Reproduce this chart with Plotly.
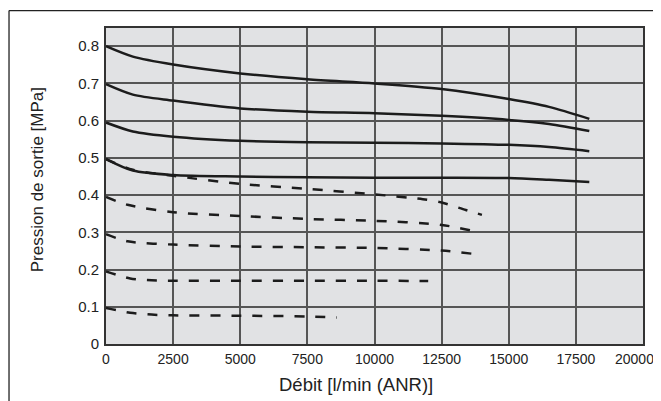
import plotly.graph_objects as go

# Solid curves (set pressures 0.8, 0.7, 0.6, 0.5 MPa)
solid_x = [0, 1000, 2500, 5000, 7500, 10000, 12500, 15000, 16500, 18000]
solid_08 = [0.800, 0.772, 0.751, 0.727, 0.711, 0.700, 0.685, 0.658, 0.637, 0.605]
solid_07 = [0.698, 0.670, 0.654, 0.633, 0.624, 0.620, 0.613, 0.602, 0.591, 0.572]
solid_06 = [0.595, 0.571, 0.557, 0.546, 0.542, 0.541, 0.539, 0.535, 0.529, 0.518]
solid_05 = [0.497, 0.466, 0.454, 0.450, 0.448, 0.447, 0.447, 0.446, 0.441, 0.435]

# Dashed curves (set pressures 0.5, 0.4, 0.3, 0.2, 0.1 MPa)
dash_05_x = [0, 1000, 2500, 5000, 7500, 10000, 11800, 12500, 13400, 14000]
dash_05_y = [0.497, 0.468, 0.452, 0.430, 0.417, 0.402, 0.389, 0.380, 0.360, 0.347]
dash_04_x = [0, 800, 2500, 5000, 7500, 10000, 12500, 13700]
dash_04_y = [0.395, 0.374, 0.354, 0.344, 0.336, 0.331, 0.320, 0.303]
dash_03_x = [0, 800, 2500, 5000, 7500, 10000, 12500, 13700]
dash_03_y = [0.295, 0.276, 0.267, 0.262, 0.260, 0.258, 0.251, 0.242]
dash_02_x = [0, 900, 1700, 2500, 5000, 7500, 10000, 12000]
dash_02_y = [0.195, 0.176, 0.171, 0.170, 0.170, 0.170, 0.170, 0.169]
dash_01_x = [0, 900, 1700, 2500, 5000, 7500, 8600]
dash_01_y = [0.097, 0.084, 0.079, 0.077, 0.076, 0.074, 0.071]

x_ticks = [0, 2500, 5000, 7500, 10000, 12500, 15000, 17500, 20000]
y_ticks = [0, 0.1, 0.2, 0.3, 0.4, 0.5, 0.6, 0.7, 0.8]
y_tick_labels = ["0", "0.1", "0.2", "0.3", "0.4", "0.5", "0.6", "0.7", "0.8"]
x_title = "Débit [l/min (ANR)]"
y_title = "Pression de sortie [MPa]"

line_color = "#1c1c1c"
fig = go.Figure()
for ys in [solid_08, solid_07, solid_06, solid_05]:
    fig.add_trace(go.Scatter(x=solid_x, y=ys, mode="lines",
                             line=dict(color=line_color, width=2.5, shape="spline", smoothing=0.8),
                             showlegend=False, hoverinfo="skip"))
for xs, ys in [(dash_05_x, dash_05_y), (dash_04_x, dash_04_y), (dash_03_x, dash_03_y),
               (dash_02_x, dash_02_y), (dash_01_x, dash_01_y)]:
    fig.add_trace(go.Scatter(x=xs, y=ys, mode="lines",
                             line=dict(color=line_color, width=2.5, dash="10px,11px",
                                       shape="spline", smoothing=0.8),
                             showlegend=False, hoverinfo="skip"))

font_family = "Liberation Sans, Arial, sans-serif"
# last x label is drawn separately (shifted inward as in the reference)
x_tick_text = [str(v) for v in x_ticks[:-1]] + [""]

# the page body adds an 8px offset, so the figure is sized to the visible area
fig.update_layout(
    width=653, height=393,
    margin=dict(l=98, r=18, t=20, b=56.5, pad=0),
    paper_bgcolor="white",
    plot_bgcolor="#e1e2e4",
    font=dict(family=font_family, size=15, color="#222"),
    xaxis=dict(range=[0, 20000], tickvals=x_ticks, ticktext=x_tick_text,
               showgrid=True, gridcolor="#555555", gridwidth=1.5,
               showline=True, linecolor="#333", linewidth=2, mirror=True,
               ticks="", zeroline=False, automargin=False, ticklabeloverflow="allow",
               ticklabelstandoff=1, tickfont=dict(size=14)),
    yaxis=dict(range=[0, 0.849], tickvals=y_ticks, ticktext=y_tick_labels,
               showgrid=True, gridcolor="#555555", gridwidth=1.5,
               showline=True, linecolor="#333", linewidth=2, mirror=True,
               ticks="", zeroline=False, automargin=False, ticklabeloverflow="allow",
               ticklabelstandoff=2, tickfont=dict(size=15)),
)

fig.add_annotation(xref="x", yref="paper", x=x_ticks[-1], xshift=-8.5, y=-0.048,
                   xanchor="center", yanchor="middle", text=str(x_ticks[-1]), showarrow=False,
                   font=dict(size=14, color="#222"))

# axis titles
fig.add_annotation(xref="paper", yref="paper", x=0.4655, y=-0.128, xanchor="center", yanchor="middle",
                   text=x_title, showarrow=False, font=dict(size=18.5, color="#222"))
fig.add_annotation(xref="paper", yref="paper", x=-0.1276, y=0.5198, xanchor="center", yanchor="middle",
                   text=y_title, textangle=-90, showarrow=False, font=dict(size=17, color="#222"))

# outer frame fragments (top and left)
fig.add_shape(type="line", xref="paper", yref="paper", x0=-0.1806, x1=1.05, y0=1.0553, y1=1.0553,
              line=dict(color="#222", width=1.3))
fig.add_shape(type="line", xref="paper", yref="paper", x0=-0.1806, x1=-0.1806, y0=-0.2, y1=1.0553,
              line=dict(color="#222", width=1.3))

fig.write_html("out.html")
